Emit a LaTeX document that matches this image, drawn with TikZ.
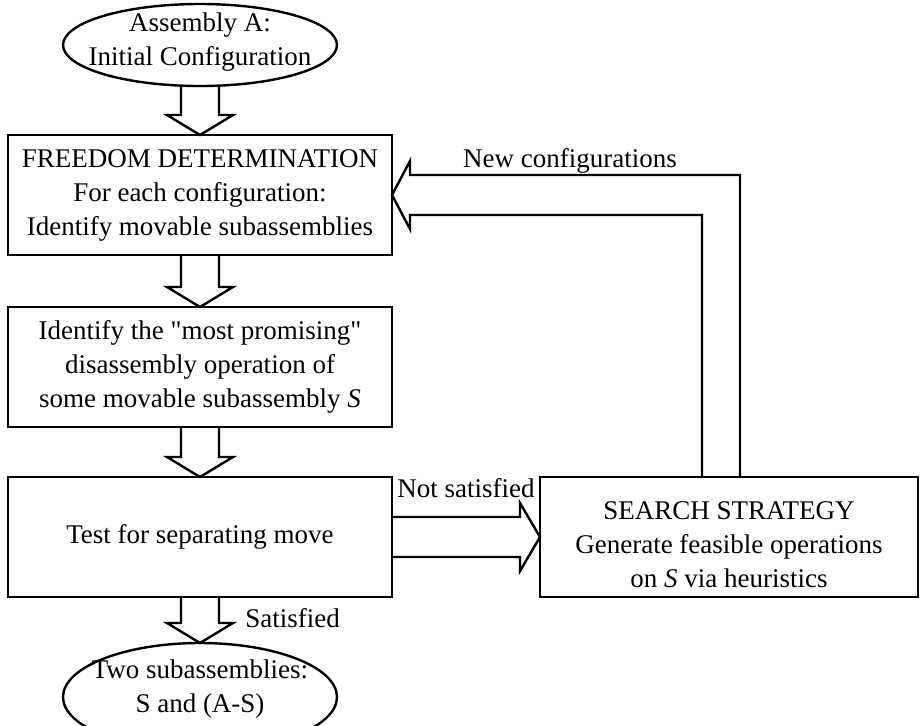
\documentclass[tikz,border=0pt]{standalone}
\usepackage{fontspec}
\setmainfont{Liberation Serif}
\usetikzlibrary{positioning,calc,shapes.geometric}
\tikzset{
  stepbox/.style={draw, line width=1.2pt, minimum width=192pt, minimum height=60pt,
    align=center, inner sep=0pt, outer sep=0pt, font=\fontsize{13.5}{17}\selectfont},
  term/.style={draw, ellipse, line width=1.2pt, minimum width=137pt,
    inner sep=0pt, outer sep=0pt},
  lbl/.style={align=center, inner sep=0pt, font=\fontsize{13.5}{17}\selectfont},
  hollow/.style={draw, line width=1.2pt, line join=miter}
}

\begin{document}
\begin{tikzpicture}[x=0.5pt, y=0.5pt]
  \useasboundingbox (0,0) rectangle (921,-725);

  % main column
  \node[stepbox] (freedom) at (200,-195)
    {FREEDOM DETERMINATION\\For each configuration:\\Identify movable subassemblies};
  \node[term, minimum height=41pt, above=24.5pt of freedom] (init) {};
  \node[lbl, yshift=1.5pt] (initlbl) at (init) {Assembly A:\\Initial Configuration};
  \node[stepbox, below=26pt of freedom] (pick)
    {Identify the \textquotedbl most promising\textquotedbl\\disassembly operation of\\some movable subassembly \textit{S}};
  \node[stepbox, below=25pt of pick] (test) {Test for separating move};
  \node[term, minimum height=54pt, below=23pt of test] (done) {};
  \node[lbl, yshift=4pt] (donelbl) at (done) {Two subassemblies:\\S and (A-S)};

  % search box on the right (strut pushes the text a bit lower)
  \node[stepbox, minimum width=189pt, right=74pt of test] (search)
    {\rule{0pt}{17pt}SEARCH STRATEGY\\Generate feasible operations\\on \textit{S} via heuristics};

  % block arrows down the column
  \foreach \a/\b in {init/freedom,freedom/pick,pick/test,test/done}
    \draw[hollow] ($(\a.south)+(-19,0)$) -- ($(\b.north)+(-19,20)$) -- ++(-14,0)
      -- (\b.north) -- ++(33,20) -- ++(-14,0) -- ($(\a.south)+(19,0)$);
  \node[lbl, anchor=base west] (satlbl) at ($(test.south)+(45,-30)$) {Satisfied};

  % test -> search
  \draw[hollow] ($(test.east)+(0,20)$) -- ($(search.west)+(-20,20)$) -- ++(0,14)
    -- (search.west) -- ++(-20,-34) -- ++(0,14) -- ($(test.east)+(0,-20)$);
  \node[lbl, anchor=base west] (notlbl) at ($(test.east)+(5,40)$) {Not satisfied};

  % feedback loop
  \draw[hollow] ($(search.north)+(11,0)$) |- ($(freedom.east)+(18,20)$) -- ++(0,14)
    -- (freedom.east) -- ++(18,-34) -- ++(0,14) -| ($(search.north)+(-27,0)$);
  \node[lbl, anchor=base] (newlbl) at ($(freedom.east)+(178,28)$) {New configurations};
\end{tikzpicture}
\end{document}
